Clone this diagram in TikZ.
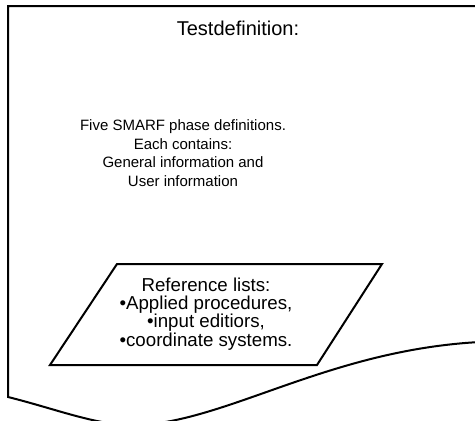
\documentclass[tikz,border=0pt]{standalone}
\usepackage{fontspec}
\setmainfont{Liberation Sans}

\tikzset{
  outline/.style={line width=2pt, line join=miter},
  txt/.style={font=\fontsize{16}{18.5}\selectfont, align=center, inner sep=0pt}
}

\begin{document}
\begin{tikzpicture}[x=1pt, y=-1pt]
  \useasboundingbox (0,0) rectangle (475,421);
  \clip (0,0) rectangle (475,421);
  % Document shape, cut off at the right and at the bottom
  \draw[outline] (480,342) -- (480,6) -- (8,6) -- (8,397)
    .. controls (60,410) and (100,427) .. (140,425)
    .. controls (230,420) and (330,350) .. (480,342);
  \node[txt, font=\fontsize{20}{22}\selectfont] (title) at (238,28) {Testdefinition:};
  % Phase definitions
  \node[txt, font=\fontsize{15}{18.7}\selectfont] (phases) at (183,153) {Five SMARF phase definitions.\\Each contains:\\General information and\\User information};
  % Parallelogram with the reference lists
  \draw[outline] (50,365) -- (317,365) -- (382,264) -- (117,264) -- cycle;
  \node[txt, font=\fontsize{18.7}{18.3}\selectfont] (reflist) at (206,314) {Reference lists:\\\textbullet Applied procedures,\\\textbullet input editiors,\\\textbullet coordinate systems.};
\end{tikzpicture}
\end{document}
